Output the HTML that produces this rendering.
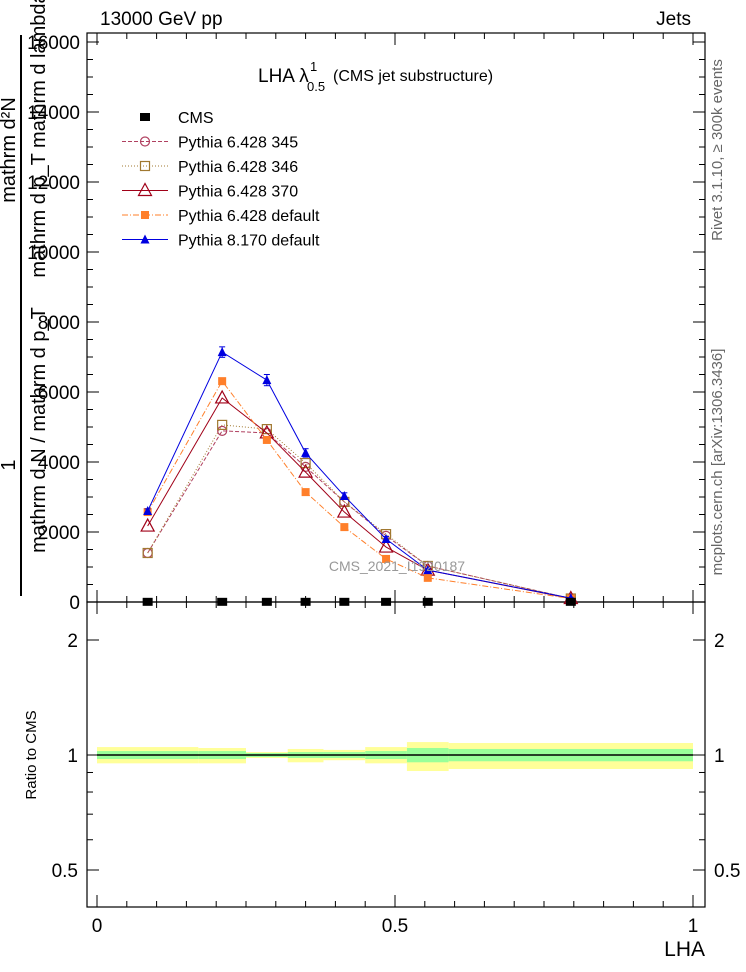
<!DOCTYPE html>
<html><head><meta charset="utf-8"><style>
html,body{margin:0;padding:0;background:#fff}
svg{display:block;font-family:"Liberation Sans",sans-serif}
</style></head><body>
<svg id="chart" width="746" height="972" viewBox="0 0 746 972" xmlns="http://www.w3.org/2000/svg">
<g id="static"></g>
</svg>
<script>
// ---- data ----
const binEdges = [0, 0.17, 0.25, 0.32, 0.38, 0.45, 0.52, 0.59, 1.0];
const binCenters = [0.085, 0.21, 0.285, 0.35, 0.415, 0.485, 0.555, 0.795];
const cmsValues = [5, 5, 5, 5, 5, 5, 5, 5];
const p345Values = [1400, 4890, 4830, 3860, 2860, 1890, 1030, 100];
const p346Values = [1400, 5060, 4940, 3970, 2860, 1940, 1030, 100];
const p370Values = [2170, 5830, 4830, 3710, 2570, 1570, 910, 100];
const pdefValues = [2570, 6310, 4630, 3140, 2140, 1230, 690, 100];
const p8Values = [2600, 7140, 6340, 4260, 3030, 1800, 910, 110];
const p8Errors = [60, 150, 160, 120, 90, 70, 40, 10];
const yellowErrUp = [0.049, 0.043, 0.018, 0.037, 0.031, 0.049, 0.081, 0.075];
const yellowErrDn = [0.049, 0.049, 0.018, 0.043, 0.031, 0.049, 0.092, 0.081];
const greenErr = [0.024, 0.024, 0.012, 0.018, 0.018, 0.024, 0.043, 0.037];
const yTicks = [0, 2000, 4000, 6000, 8000, 10000, 12000, 14000, 16000];
const xTicks = [0, 0.5, 1];
const xTickLabels = ["0", "0.5", "1"];
const ratioTicks = [0.5, 1, 2];
const ratioTickLabels = ["0.5", "1", "2"];

// ---- axes ----
const X0 = 87, X1 = 705, TOP = 33, MID = 602, BOT = 907;
const xs = v => 97 + v * 596;
const ys = v => 602 - v * 0.035;
const rs = v => 755 - 115 * Math.log2(v);

const NS = "http://www.w3.org/2000/svg";
const svg = document.getElementById("chart");
function mk(tag, attrs, parent) {
  const e = document.createElementNS(NS, tag);
  for (const k in attrs) e.setAttribute(k, attrs[k]);
  (parent || svg).appendChild(e);
  return e;
}
function txt(s, attrs, name) {
  const t = mk("text", attrs);
  t.textContent = s;
  
  
  return t;
}

// ratio bands
const bands = mk("g", {});


for (let i = 0; i < binCenters.length; i++) {
  const xa = xs(binEdges[i]), xb = xs(binEdges[i + 1]);
  const y = mk("rect", {x: xa, y: rs(1 + yellowErrUp[i]), width: xb - xa, height: rs(1 - yellowErrDn[i]) - rs(1 + yellowErrUp[i]), fill: "#ffff99"}, bands);
  
  
  const g = mk("rect", {x: xa, y: rs(1 + greenErr[i]), width: xb - xa, height: rs(1 - greenErr[i]) - rs(1 + greenErr[i]), fill: "#99ff99"}, bands);
  
  
}
const rl = mk("line", {x1: xs(binEdges[0]), x2: xs(binEdges[binEdges.length - 1]), y1: rs(1), y2: rs(1), stroke: "#000", "stroke-width": 1.5});



// frames
const f1 = mk("rect", {x: X0, y: TOP, width: X1 - X0, height: MID - TOP, fill: "none", stroke: "#000", "stroke-width": 1.2});


const f2 = mk("rect", {x: X0, y: MID, width: X1 - X0, height: BOT - MID, fill: "none", stroke: "#000", "stroke-width": 1.2});



// ticks
const tk = mk("g", {stroke: "#000", "stroke-width": 1});


for (let v = 0; v <= 16000; v += 500) {
  const L = v % 2000 === 0 ? 12 : 6;
  mk("line", {x1: X0, x2: X0 + L, y1: ys(v), y2: ys(v)}, tk);
  mk("line", {x1: X1, x2: X1 - L, y1: ys(v), y2: ys(v)}, tk);
}
for (let i = 0; i <= 20; i++) {
  const v = i * 0.05, L = i % 10 === 0 ? 12 : 6, x = xs(v);
  mk("line", {x1: x, x2: x, y1: MID, y2: MID - L}, tk);
  mk("line", {x1: x, x2: x, y1: BOT, y2: BOT - L}, tk);
  mk("line", {x1: x, x2: x, y1: MID, y2: MID + L}, tk);
  mk("line", {x1: x, x2: x, y1: TOP, y2: TOP + L}, tk);
}
[0.5,0.6,0.7,0.8,0.9,1,2].forEach(v => {
  const L = ratioTicks.includes(v) ? 12 : 6;
  mk("line", {x1: X0, x2: X0 + L, y1: rs(v), y2: rs(v)}, tk);
  mk("line", {x1: X1, x2: X1 - L, y1: rs(v), y2: rs(v)}, tk);
});

// tick labels
yTicks.forEach(v => txt(String(v), {x: 80, y: ys(v) + 7, "font-size": 19, "text-anchor": "end"}, "y-tick-label"));
xTicks.forEach((v, i) => txt(xTickLabels[i], {x: xs(v), y: 932, "font-size": 19, "text-anchor": "middle"}, "x-tick-label"));
ratioTicks.forEach((v, i) => {
  txt(ratioTickLabels[i], {x: 78, y: rs(v) + 7, "font-size": 19, "text-anchor": "end"}, "ratio-tick-label");
  txt(ratioTickLabels[i], {x: 714, y: rs(v) + 7, "font-size": 19, "text-anchor": "start"}, "ratio-tick-label-right");
});

// series
function series(vals, color, dash, marker, name) {
  const g = mk("g", {});
  
  
  const pts = vals.map((v, i) => xs(binCenters[i]) + "," + ys(v)).join(" ");
  const pl = mk("polyline", {points: pts, fill: "none", stroke: color, "stroke-width": 1, "stroke-dasharray": dash}, g);
  
  
  vals.forEach((v, i) => drawMarker(g, marker, xs(binCenters[i]), ys(v), color, name + '-marker'));
}
function drawMarker(g, marker, x, y, color, name) {
  let m;
  if (marker === "circle") m = mk("circle", {cx: x, cy: y, r: 4.5, fill: "none", stroke: color, "stroke-width": 1.2}, g);
  else if (marker === "osquare") m = mk("rect", {x: x - 4.5, y: y - 4.5, width: 9, height: 9, fill: "none", stroke: color, "stroke-width": 1.2}, g);
  else if (marker === "otri") m = mk("polygon", {points: `${x},${y - 7} ${x - 6.5},${y + 5} ${x + 6.5},${y + 5}`, fill: "none", stroke: color, "stroke-width": 1.2}, g);
  else if (marker === "fsquare") m = mk("rect", {x: x - 4, y: y - 4, width: 8, height: 8, fill: color}, g);
  else if (marker === "ftri") m = mk("polygon", {points: `${x},${y - 5} ${x - 4.5},${y + 4} ${x + 4.5},${y + 4}`, fill: color}, g);
  else if (marker === "cms") m = mk("rect", {x: x - 5, y: y - 4, width: 10, height: 8, fill: color}, g);
  
  
}
series(p345Values, "#b04060", "4,2", "circle", "pythia-6428-345");
series(p346Values, "#a07830", "1,2", "osquare", "pythia-6428-346");
series(p370Values, "#a00018", "", "otri", "pythia-6428-370");
series(pdefValues, "#ff7f2a", "6,2,1,2", "fsquare", "pythia-6428-default");
series(p8Values, "#0000e0", "", "ftri", "pythia-8170-default");
const eb = mk("g", {stroke: "#0000e0", "stroke-width": 1});


p8Values.forEach((v, i) => {
  const x = xs(binCenters[i]);
  mk("line", {x1: x, x2: x, y1: ys(v + p8Errors[i]), y2: ys(v - p8Errors[i])}, eb);
  mk("line", {x1: x - 3, x2: x + 3, y1: ys(v + p8Errors[i]), y2: ys(v + p8Errors[i])}, eb);
  mk("line", {x1: x - 3, x2: x + 3, y1: ys(v - p8Errors[i]), y2: ys(v - p8Errors[i])}, eb);
});
const cg = mk("g", {});


cmsValues.forEach((v, i) => drawMarker(cg, "cms", xs(binCenters[i]), ys(v), "#000", "cms-data-point"));

// legend
const legend = [
  ["CMS", "#000", "", "cms"],
  ["Pythia 6.428 345", "#b04060", "4,2", "circle"],
  ["Pythia 6.428 346", "#a07830", "1,2", "osquare"],
  ["Pythia 6.428 370", "#a00018", "", "otri"],
  ["Pythia 6.428 default", "#ff7f2a", "6,2,1,2", "fsquare"],
  ["Pythia 8.170 default", "#0000e0", "", "ftri"]
];
legend.forEach((e, i) => {
  const y = 117 + i * 24.5;
  const g = mk("g", {});
  
  
  if (i > 0) mk("line", {x1: 122, x2: 168, y1: y, y2: y, stroke: e[1], "stroke-width": 1, "stroke-dasharray": e[2]}, g);
  drawMarker(g, e[3], 145, y, e[1], 'legend-marker');
  const t = mk("text", {x: 178, y: y + 6, "font-size": 16}, g);
  t.textContent = e[0];
  
  
});

// titles
txt("13000 GeV pp", {x: 100, y: 25, "font-size": 19}, "beam-label");
txt("Jets", {x: 691, y: 25, "font-size": 19, "text-anchor": "end"}, "process-label");
txt("LHA λ", {x: 258, y: 82, "font-size": 19}, "plot-title");
txt("1", {x: 310, y: 71, "font-size": 13}, "plot-title-superscript");
txt("0.5", {x: 307, y: 91, "font-size": 13}, "plot-title-subscript");
txt("(CMS jet substructure)", {x: 333, y: 81, "font-size": 16}, "plot-title-description");
txt("CMS_2021_I1920187", {x: 397, y: 571, "font-size": 14, fill: "#999", "text-anchor": "middle"}, "analysis-watermark");
txt("LHA", {x: 705, y: 956, "font-size": 21, "text-anchor": "end"}, "x-axis-title");
txt("Ratio to CMS", {x: 0, y: 0, "font-size": 15, "text-anchor": "middle", transform: "translate(36,755) rotate(-90)"}, "ratio-y-axis-title");
txt("Rivet 3.1.10, ≥ 300k events", {x: 0, y: 0, "font-size": 15, fill: "#666", "text-anchor": "middle", transform: "translate(722,150) rotate(-90)"}, "rivet-version-label");
txt("mcplots.cern.ch [arXiv:1306.3436]", {x: 0, y: 0, "font-size": 15, fill: "#666", "text-anchor": "middle", transform: "translate(722,462) rotate(-90)"}, "mcplots-label");
// y-axis title (fraction)
const yr = mk("line", {x1: 21, x2: 21, y1: 35, y2: 596, stroke: "#000", "stroke-width": 2});


txt("1", {x: 0, y: 0, "font-size": 20, "text-anchor": "middle", transform: "translate(15,465) rotate(-90)"}, "y-axis-title-numerator-1");
txt("mathrm d²N", {x: 0, y: 0, "font-size": 20, "text-anchor": "middle", transform: "translate(15,150) rotate(-90)"}, "y-axis-title-numerator-2");
txt("mathrm d N / mathrm d p_T", {x: 0, y: 0, "font-size": 20, "text-anchor": "middle", transform: "translate(45,430) rotate(-90)"}, "y-axis-title-denominator-1");
txt("mathrm d p_T mathrm d lambda", {x: 0, y: 0, "font-size": 20, "text-anchor": "middle", transform: "translate(45,135) rotate(-90)"}, "y-axis-title-denominator-2");
</script>
</body></html>
